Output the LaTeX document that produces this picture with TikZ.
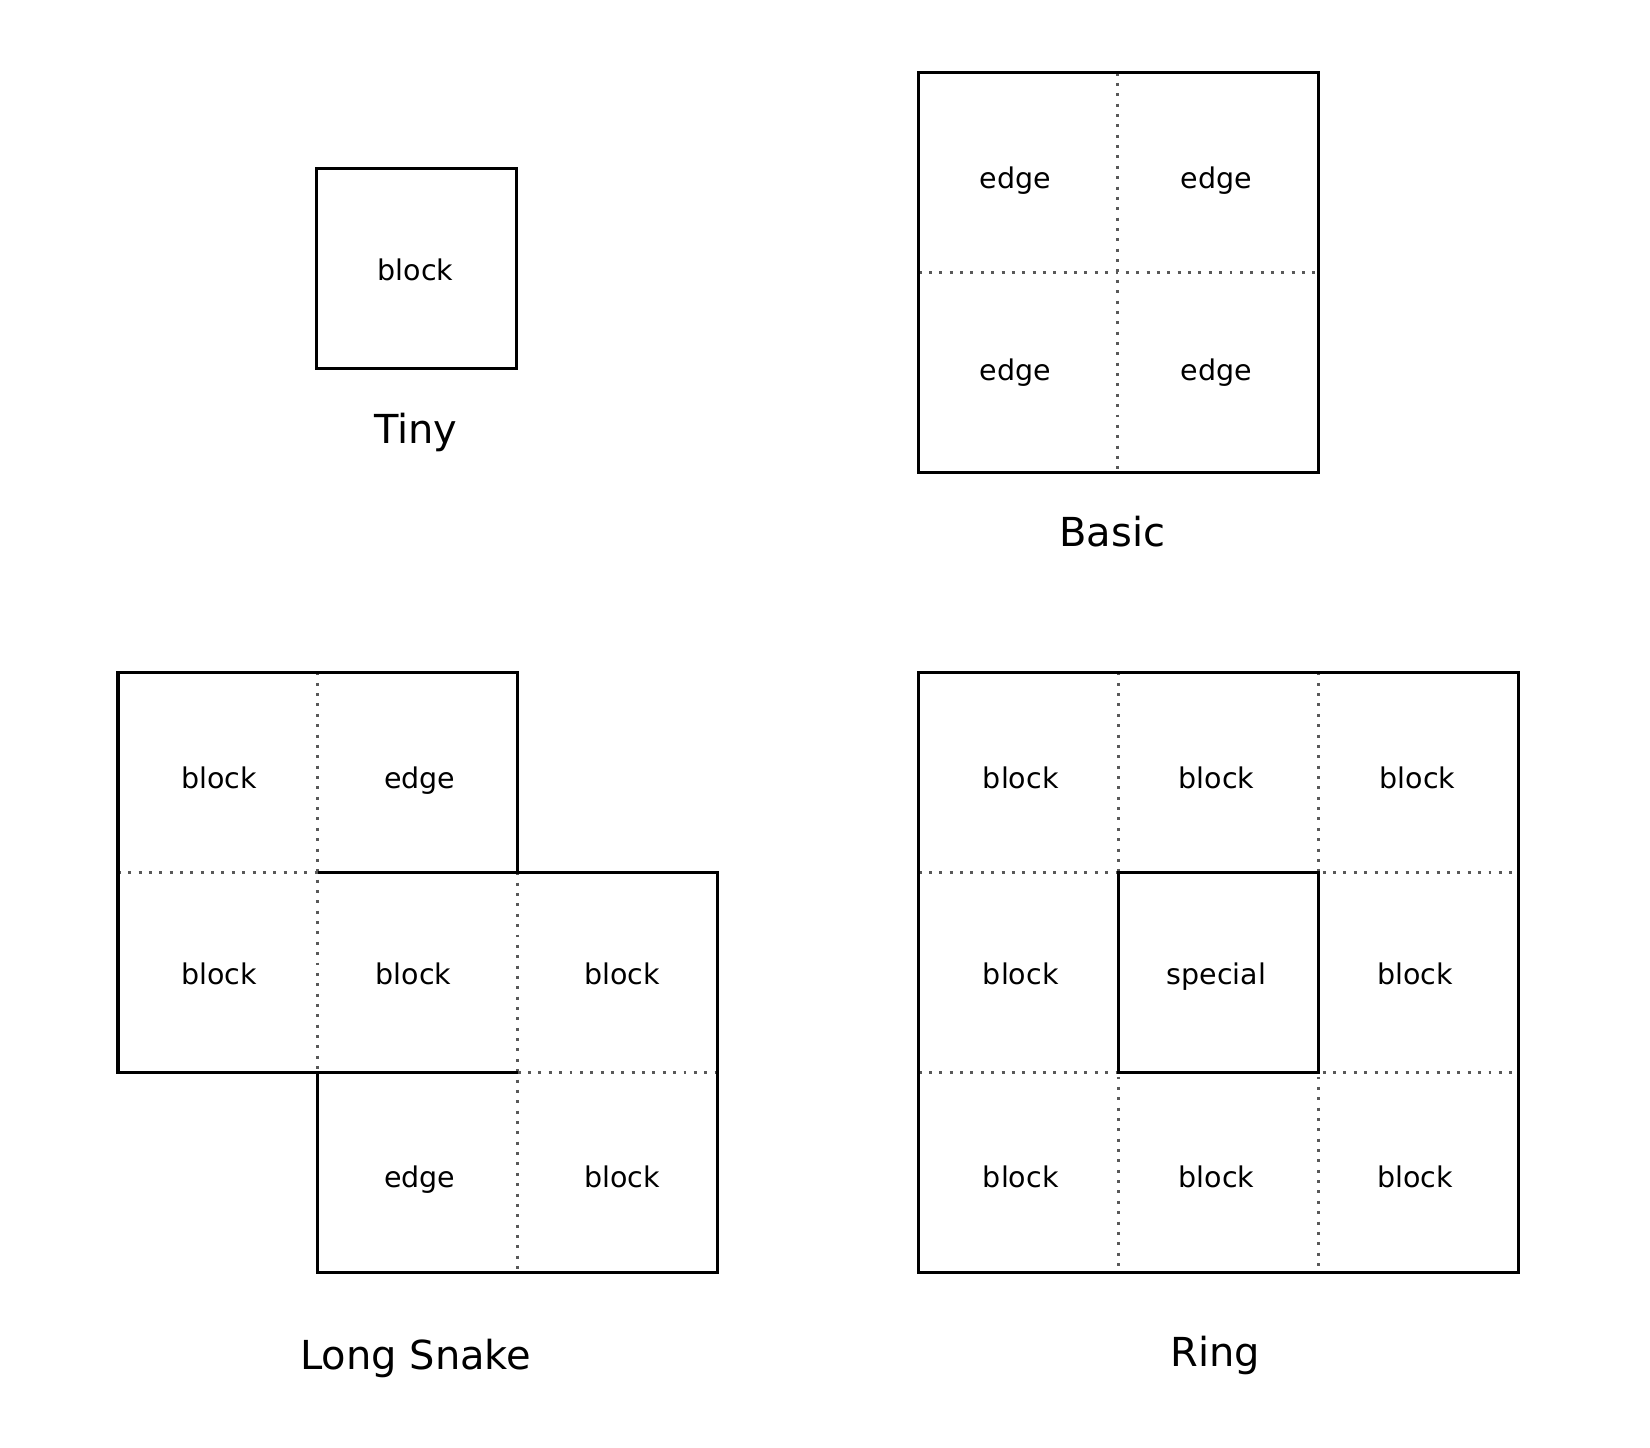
\documentclass[tikz,border=0pt]{standalone}
\usepackage{fontspec}
\setmainfont{DejaVu Sans}
\begin{document}
\begin{tikzpicture}[x=0.01cm,y=-0.01cm,
  solid line/.style={line width=0.9pt},
  dotline/.style={dotted,line width=0.8pt,gray!70!black},
  lbl/.style={font=\fontsize{7.7}{9}\selectfont,text height=1.6ex,text depth=0.4ex},
  ttl/.style={font=\fontsize{10.8}{13}\selectfont,text height=1.6ex,text depth=0.4ex}]
\useasboundingbox (0,0) rectangle (1568,1376);
% Tiny
\draw[solid line] (301,160) rectangle (491,350);
\node[lbl] (t1) at (395,255) {block};
\node[ttl] (tt) at (395,410) {Tiny};
% Basic
\draw[dotline] (1062,69) -- (1062,449);
\draw[dotline] (873,259) -- (1253,259);
\draw[solid line] (873,69) rectangle (1253,449);
\node[lbl] (b1) at (965,168) {edge};
\node[lbl] (b2) at (1156,168) {edge};
\node[lbl] (b3) at (965,350) {edge};
\node[lbl] (b4) at (1156,350) {edge};
\node[ttl] (bt) at (1057,508) {Basic};
% Long Snake
\draw[dotline] (302,639) -- (302,1019);
\draw[dotline] (112,829) -- (302,829);
\draw[dotline] (492,829) -- (492,1209);
\draw[dotline] (492,1019) -- (682,1019);
\draw[solid line] (112,639) -- (492,639) -- (492,829) -- (682,829) -- (682,1209) -- (302,1209) -- (302,1019) -- (112,1019) -- cycle;
\draw[solid line] (302,829) -- (492,829);
\draw[solid line] (302,1019) -- (492,1019);
\node[lbl] (s1) at (208,738) {block};
\node[lbl] (s2) at (399,738) {edge};
\node[lbl] (s3) at (208,924) {block};
\node[lbl] (s4) at (393,924) {block};
\node[lbl] (s5) at (591,924) {block};
\node[lbl] (s6) at (399,1117) {edge};
\node[lbl] (s7) at (591,1117) {block};
\node[ttl] (st) at (395,1290) {Long Snake};
% Ring
\draw[dotline] (1063,639) -- (1063,1209);
\draw[dotline] (1253,639) -- (1253,1209);
\draw[dotline] (873,829) -- (1443,829);
\draw[dotline] (873,1019) -- (1443,1019);
\draw[solid line] (873,639) rectangle (1443,1209);
\draw[solid line] (1063,829) rectangle (1253,1019);
\node[lbl] (r1) at (970,738) {block};
\node[lbl] (r2) at (1156,738) {block};
\node[lbl] (r3) at (1347,738) {block};
\node[lbl] (r4) at (970,924) {block};
\node[lbl] (r5) at (1156,924) {special};
\node[lbl] (r6) at (1345,924) {block};
\node[lbl] (r7) at (970,1117) {block};
\node[lbl] (r8) at (1156,1117) {block};
\node[lbl] (r9) at (1345,1117) {block};
\node[ttl] (rt) at (1155,1287) {Ring};
\end{tikzpicture}
\end{document}
